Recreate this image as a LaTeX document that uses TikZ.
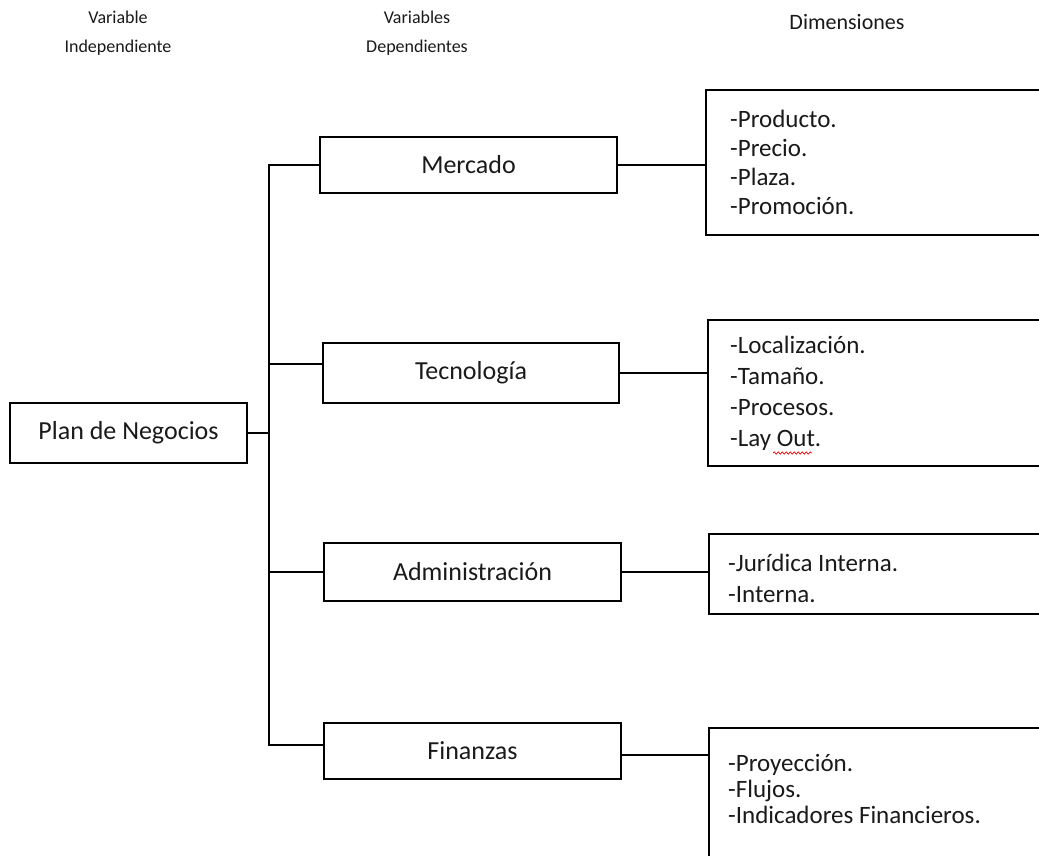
\documentclass[tikz,border=0pt]{standalone}
\usepackage{fontspec}
\setmainfont{Carlito}
\usetikzlibrary{decorations.pathmorphing}
\definecolor{txt}{HTML}{1A1A1A}
\tikzset{
  vbox/.style={draw=black, line width=1.8pt, inner sep=0pt, text=txt,
    font=\fontsize{26}{30}\selectfont},
  dimbox/.style={draw=black, line width=1.8pt, inner sep=0pt, anchor=north west, minimum width=345pt},
  dimtext/.style={anchor=west, align=left, inner sep=0pt, text=txt},
  head/.style={align=center, inner sep=0pt, text=txt},
  conn/.style={draw=black, line width=1.8pt},
}
\begin{document}
\begin{tikzpicture}[x=1pt,y=-1pt]
\useasboundingbox (0,0) rectangle (1039,856);
\clip (0,0) rectangle (1039,856);
\fill[white] (0,0) rectangle (1039,856);

% headers
\node[head, font=\fontsize{18}{29}\selectfont] (h1) at (118,33) {Variable\\Independiente};
\node[head, font=\fontsize{18}{29}\selectfont] (h2) at (417,33) {Variables\\Dependientes};
\node[head, font=\fontsize{22}{26}\selectfont] (h3) at (847,22) {Dimensiones};

% boxes
\node[vbox, minimum width=237pt, minimum height=60pt] (plan) at (128.5,433) {Plan de Negocios};
\node[vbox, minimum width=297pt, minimum height=56pt] (merc) at (468.5,165) {Mercado};
\node[vbox, minimum width=296pt, minimum height=60pt] (tec) at (471,373) {Tecnología};
\node[vbox, minimum width=297pt, minimum height=58pt] (adm) at (472.5,572) {Administración};
\node[vbox, minimum width=297pt, minimum height=56pt] (fin) at (472.5,751) {Finanzas};

% dimension boxes
\node[dimbox, minimum height=145pt] (d1) at (705,89) {};
\node[dimbox, minimum height=146pt] (d2) at (707,319) {};
\node[dimbox, minimum height=80pt] (d3) at (708,533) {};
\node[dimbox, minimum height=200pt] (d4) at (708,727) {};

\node[dimtext, font=\fontsize{25}{29}\selectfont] (t1) at (730,162) {-Producto.\\-Precio.\\-Plaza.\\-Promoción.};
\node[dimtext, font=\fontsize{25}{31}\selectfont] (t2) at (730,393) {-Localización.\\-Tamaño.\\-Procesos.\\-Lay Out.};
\node[dimtext, font=\fontsize{25}{31}\selectfont] (t3) at (728,578) {-Jurídica Interna.\\-Interna.};
\node[dimtext, font=\fontsize{25}{26}\selectfont] (t4) at (728,789) {-Proyección.\\-Flujos.\\-Indicadores Financieros.};

% spell-check squiggle under "Out"
\draw[red, line width=0.7pt, decorate, decoration={snake, amplitude=1.2pt, segment length=4pt}] (773,453) -- (812,453);

% trunk
\coordinate (jt) at (269,165);
\coordinate (jb) at (269,745);
\coordinate (jtec) at (269,364);
\draw[conn] (merc.west) -- (jt) -- (jb) -- (jb -| fin.west);
\draw[conn] (plan.east) -- (plan.east -| jt);
\draw[conn] (jtec) -- (jtec -| tec.west);
\draw[conn] (adm.west) -- (adm.west -| jt);

% right connectors
\draw[conn] (merc.east) -- (merc.east -| d1.west);
\draw[conn] (tec.east) -- (tec.east -| d2.west);
\draw[conn] (adm.east) -- (adm.east -| d3.west);
\draw[conn] ([yshift=-4pt]fin.east) -- ([yshift=-4pt]fin.east -| d4.west);
\end{tikzpicture}
\end{document}
